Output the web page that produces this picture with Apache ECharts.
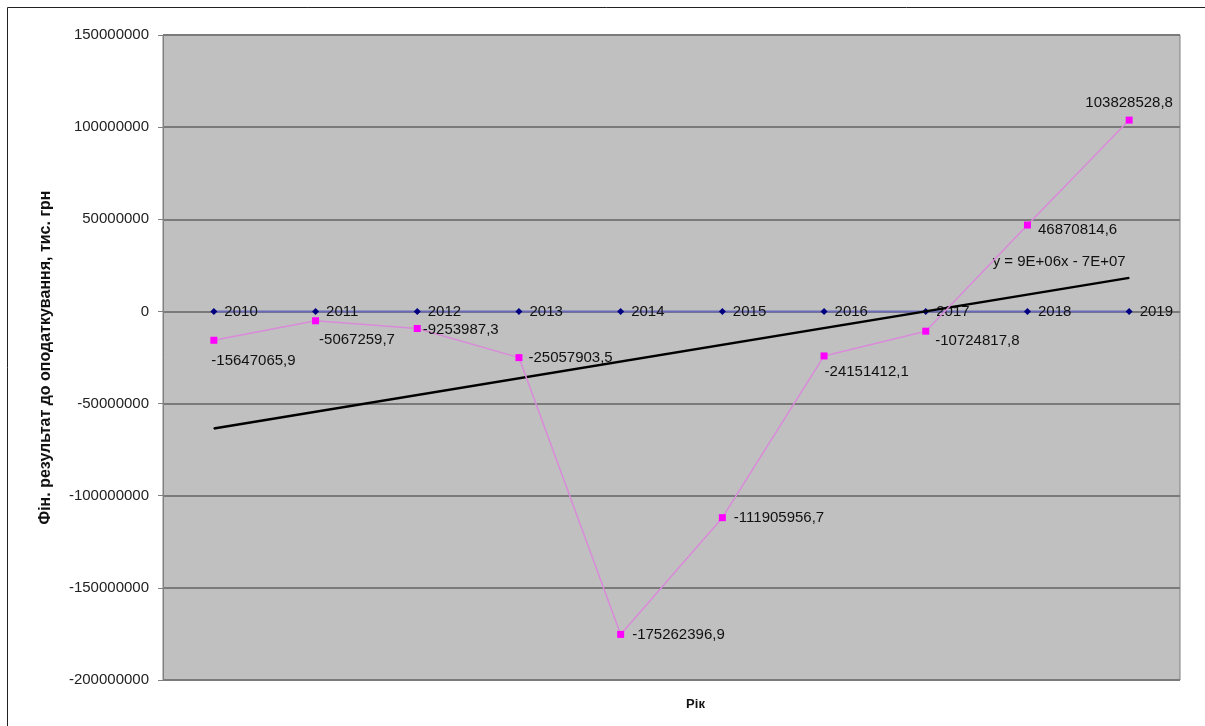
<!DOCTYPE html>
<html>
<head>
<meta charset="utf-8">
<script src="https://cdn.jsdelivr.net/npm/echarts@6/dist/echarts.min.js"></script>
<style>
html,body{margin:0;padding:0;background:#fff;}
#c{width:1205px;height:726px;}
</style>
</head>
<body>
<div id="c"></div>
<script>
// ---- data ----
var years = ['2010','2011','2012','2013','2014','2015','2016','2017','2018','2019'];
var finResult = [-15647065.9, -5067259.7, -9253987.3, -25057903.5, -175262396.9, -111905956.7, -24151412.1, -10724817.8, 46870814.6, 103828528.8];
var finLabels = ['-15647065,9','-5067259,7','-9253987,3','-25057903,5','-175262396,9','-111905956,7','-24151412,1','-10724817,8','46870814,6','103828528,8'];
var yearBase = [0,0,0,0,0,0,0,0,0,0];
var trendEnds = [-63500000, 18200000]; // linear trend read at 2010 and 2019
var trendEquation = 'y = 9E+06x - 7E+07';
var yTicks = [-200000000, -150000000, -100000000, -50000000, 0, 50000000, 100000000, 150000000];

// ---- label placement (style only) ----
var finLabelPos = [
  ['right', [-6, 21]], ['right', [0, 19]], ['right', [2, 1]], ['right', [6, 0]],
  ['right', [8, 0]], ['right', [8, 0]], ['right', [-3, 16]], ['right', [6, 10]],
  ['right', [7, 5]], ['top', [0, -6]]
];

var FONT = "'Liberation Sans', Arial, sans-serif";
var chart = echarts.init(document.getElementById('c'), null, {renderer: 'canvas'});

var finData = finResult.map(function (v, i) {
  return {
    value: v,
    label: {
      show: true,
      position: finLabelPos[i][0],
      distance: 0,
      offset: finLabelPos[i][1],
      formatter: finLabels[i]
    }
  };
});

var yearData = yearBase.map(function (v, i) {
  return {value: v, label: {formatter: years[i]}};
});

var trendData = years.map(function () { return null; });
trendData[0] = {value: trendEnds[0], label: {show: false}};
trendData[years.length - 1] = {
  value: trendEnds[1],
  label: {show: true, position: 'top', distance: 5, offset: [-70, -3], formatter: trendEquation}
};

var labelStyle = {color: '#111', fontSize: 15, fontFamily: FONT};

chart.setOption({
  animation: false,
  backgroundColor: '#ffffff',
  textStyle: {fontFamily: FONT},
  graphic: [{
    type: 'rect',
    shape: {x: 7.5, y: 7.5, width: 1250, height: 800},
    style: {fill: 'none', stroke: '#222', lineWidth: 1},
    silent: true, z: -10
  }],
  grid: {
    left: 163, right: 25, top: 35, bottom: 46,
    show: true, backgroundColor: '#c0c0c0', borderColor: '#808080', borderWidth: 1
  },
  xAxis: {
    type: 'category',
    data: years,
    boundaryGap: true,
    axisLine: {show: false},
    axisTick: {show: false},
    axisLabel: {show: false},
    splitLine: {show: false},
    name: 'Рік',
    nameLocation: 'middle',
    nameGap: 18,
    nameTextStyle: {fontWeight: 'bold', fontSize: 13, color: '#111', fontFamily: FONT, padding: [0, 0, 0, 48]}
  },
  yAxis: {
    type: 'value',
    min: yTicks[0],
    max: yTicks[yTicks.length - 1],
    interval: 50000000,
    axisLine: {show: true, lineStyle: {color: '#808080', width: 1}},
    axisTick: {show: true, length: 5, lineStyle: {color: '#808080'}},
    axisLabel: {
      color: '#222', fontSize: 15, fontFamily: FONT, margin: 14,
      formatter: function (v) { return String(v); }
    },
    splitLine: {show: true, lineStyle: {color: '#7a7a7a', width: 2}},
    name: 'Фін. результат до оподаткування, тис. грн',
    nameLocation: 'middle',
    nameGap: 109,
    nameRotate: 90,
    nameTextStyle: {fontWeight: 'bold', fontSize: 16, color: '#111', fontFamily: FONT}
  },
  series: [
    {
      name: 'years',
      type: 'line',
      data: yearData,
      z: 2,
      symbol: 'diamond',
      symbolSize: 7,
      itemStyle: {color: '#000080'},
      lineStyle: {color: '#6a6ab8', width: 2},
      label: Object.assign({show: true, position: 'right', distance: 7}, labelStyle)
    },
    {
      name: 'trend',
      type: 'line',
      data: trendData,
      connectNulls: true,
      z: 3,
      symbol: 'circle',
      symbolSize: 1,
      showSymbol: true,
      itemStyle: {color: '#000'},
      lineStyle: {color: '#000', width: 2.5},
      label: labelStyle
    },
    {
      name: 'fin',
      type: 'line',
      data: finData,
      z: 4,
      symbol: 'rect',
      symbolSize: 7,
      itemStyle: {color: '#ff00ff'},
      lineStyle: {color: '#d98ad9', width: 1.5},
      label: labelStyle
    }
  ]
});
</script>
</body>
</html>
